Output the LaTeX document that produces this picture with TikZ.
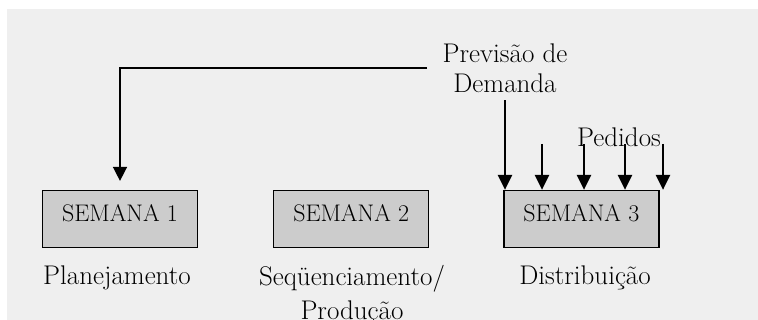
\documentclass[tikz,border=0pt]{standalone}
\usetikzlibrary{arrows.meta,positioning}
\definecolor{bggray}{HTML}{EFEFEF}
\definecolor{boxgray}{HTML}{CCCCCC}
\tikzset{
  weekbox/.style={draw,line width=1.2pt,fill=boxgray,minimum width=155pt,inner sep=0pt,
    text height=31pt,text depth=26pt,font=\fontsize{24}{28}\selectfont},
  stagelabel/.style={align=center,font=\fontsize{27}{34}\selectfont},
  feed/.style={line width=2.6pt,-{Triangle[width=14pt,length=15pt]}}
}
\begin{document}
\begin{tikzpicture}[x=1pt,y=-1pt]
\useasboundingbox (0,0) rectangle (758,320);
\fill[bggray] (7,9) rectangle (758,320);

\node (week1) [weekbox] at (120,219) {SEMANA 1};
\node (week2) [weekbox,right=75pt of week1] {SEMANA 2};
\node (week3) [weekbox,right=74pt of week2] {SEMANA 3};

\node (plan) [stagelabel] at (117,278) {Planejamento};
\node (seq) [stagelabel] at (352,295) {Seqüenciamento/\\Produção};
\node (dist) [stagelabel] at (585,278) {Distribuição};

% -------------------------------

\node (forecast) [stagelabel,font=\fontsize{27}{30}\selectfont] at (505,68) {Previsão de\\Demanda};
\node (orders) [stagelabel] at (619,137) {Pedidos};

\draw[line width=1.5pt,-{Triangle[width=14pt,length=14pt]},shorten >=9pt]
  ([xshift=-12pt]forecast.west) -| (week1.north);
\draw[feed,shorten <=4pt] (forecast.south) -- (forecast.south |- week3.north);

\foreach \x [count=\i] in {542,584,625,663} {
  \coordinate (order\i) at (\x,144);
  \draw[feed] (order\i) -- (order\i |- week3.north);
}
\end{tikzpicture}
\end{document}
